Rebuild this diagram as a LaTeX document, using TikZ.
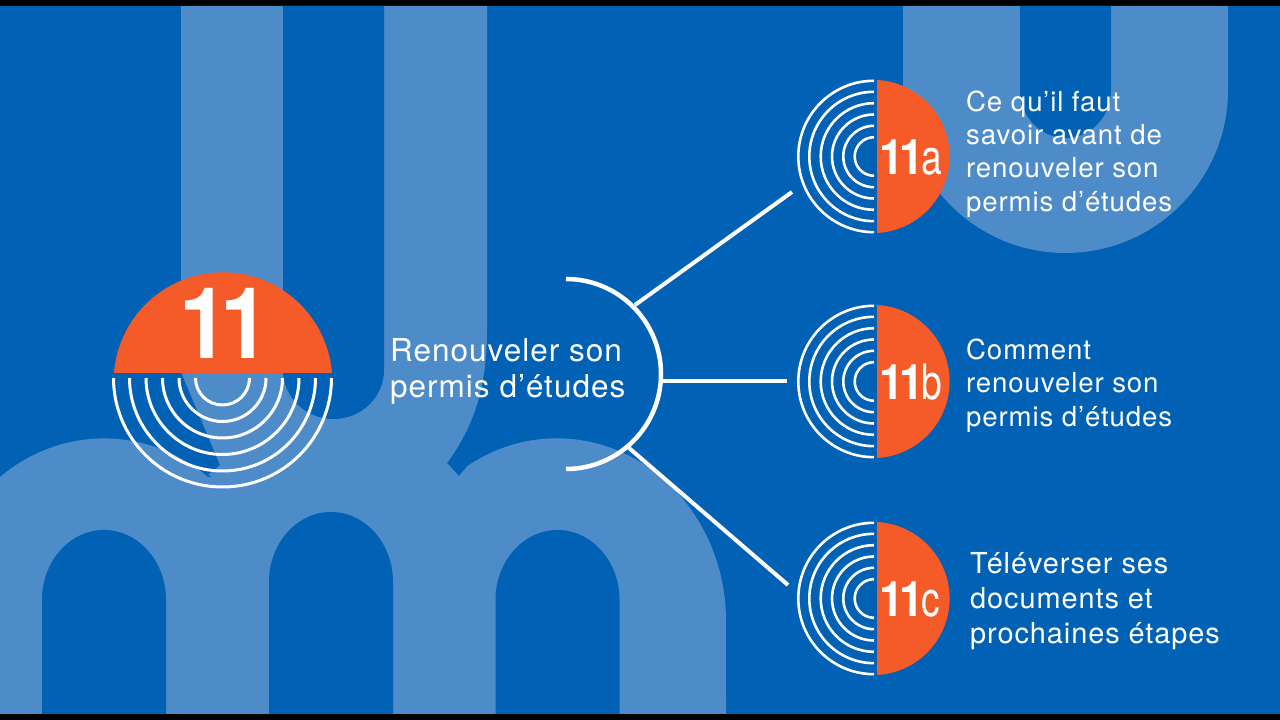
\documentclass[tikz,border=0pt]{standalone}
\usepackage{fontspec}
\usepackage{tikz}
\setmainfont{TeX Gyre Heros}
\newfontfamily\labelfont[LetterSpace=3.2]{TeX Gyre Heros}
\newfontfamily\numfont[FakeStretch=0.9,LetterSpace=-8.5]{TeX Gyre Heros}
\newfontfamily\tagfont[FakeStretch=0.76]{TeX Gyre Heros}
\definecolor{bgblue}{RGB}{0,97,181}
\definecolor{paleblue}{RGB}{77,139,201}
\definecolor{badge}{RGB}{244,91,40}
\tikzset{
  ringline/.style={draw=white, line width=2.6pt},
  link/.style={draw=white, line width=4pt},
  sublabel/.style={anchor=west, inner sep=0pt, align=left, text=white, font=\labelfont\fontsize{27.6}{33.3}\selectfont},
  num/.style={anchor=base west, inner sep=0pt, text=white, font=\fontsize{49}{49}\selectfont}
}

\begin{document}
\begin{tikzpicture}[x=1pt,y=1pt]
        \useasboundingbox (0,0) rectangle (1280,720);
        \fill[black] (0,0) rectangle (1280,720);
        \fill[bgblue] (0,6) rectangle (1280,714);

        % background letters
        \fill[paleblue] (0,6) -- (0,243) arc[start angle=128, end angle=52, x radius=169, y radius=182]
            -- (459,244) -- (467.4,254) arc[start angle=122, end angle=0, x radius=169, y radius=182] -- (726,6) -- cycle;
        \fill[paleblue] (181,714) -- (181,348) -- (220,255) -- (208,245) -- (300,200) -- (459,244) -- (447,257)
            .. controls (475,295) and (487,335) .. (487,390) -- (487,714) -- cycle;
        \fill[bgblue] (283,714) -- (283,350) arc[start angle=180, end angle=360, x radius=50.5, y radius=49] -- (384,714) -- cycle;
        \foreach \cx/\archtop in {104/190, 331/208, 557.5/190}
            \fill[bgblue] (\cx-62,6) -- (\cx-62,\archtop-70) arc[start angle=180, end angle=0, x radius=62, y radius=70] -- (\cx+62,6) -- cycle;
        \fill[paleblue] (903,714) -- (903,630) arc[start angle=180, end angle=360, x radius=162.5, y radius=163] -- (1228,714) -- cycle;
        \fill[bgblue] (1020,714) -- (1020,630) arc[start angle=180, end angle=360, x radius=45.5, y radius=48] -- (1111,714) -- cycle;

        % main badge
        \fill[badge] (114,347) arc[start angle=175.5, end angle=4.5, radius=109.3] -- cycle;
        \foreach \r in {27,43.5,60,76.5,93,109}
            \draw[ringline, line width=3pt] (222.5,342) ++(180:\r) arc[start angle=180, end angle=360, radius=\r];
        \node[anchor=base, inner sep=0pt, text=white, font=\numfont\bfseries\fontsize{99}{99}\selectfont] (n11) at (225,361) {11};
        \node[anchor=west, inner sep=0pt, align=left, text=white, font=\labelfont\fontsize{31.5}{36}\selectfont] (main) at (390,349) {Renouveler son\\permis d’études};

        % small badges
        \foreach \ypos/\tag in {563.5/a, 338.5/b, 121.5/c} {
            \fill[badge] (877,\ypos+76.5) arc[start angle=87, end angle=-87, radius=76.6] -- cycle;
            \foreach \r in {19.3,30.7,42,53.3,64.7,75.7}
                \draw[ringline] (874,\ypos) ++(90:\r) arc[start angle=90, end angle=270, radius=\r];
            \node[num] (n11\tag) at (879,\ypos-18.5) {\numfont\bfseries 11\kern-3pt\tagfont\mdseries\tag};
        }

        \node[sublabel] (laba) at (966,566) {Ce qu’il faut\\savoir avant de\\renouveler son\\permis d’études};
        \node[sublabel] (labb) at (966,334.5) {Comment\\renouveler son\\permis d’études};
        \node[sublabel, font=\labelfont\fontsize{28.9}{35}\selectfont] (labc) at (970,118.5) {Téléverser ses\\documents et\\prochaines étapes};

        % bracket and links
        \coordinate (bra) at (566,441);
        \coordinate (brb) at (566,251);
        \draw[link, line width=4.5pt] (bra) arc[start angle=90, end angle=-90, radius=95];
        \coordinate (oa) at (635,415);
        \coordinate (ob) at (663,339);
        \coordinate (oc) at (629,272);
        \coordinate (ea) at (792,528);
        \coordinate (eb) at (787,339);
        \coordinate (ec) at (788,135);
        \draw[link] (oa) -- (ea);
        \draw[link] (ob) -- (eb);
        \draw[link] (oc) -- (ec);
    \end{tikzpicture}
\end{document}
